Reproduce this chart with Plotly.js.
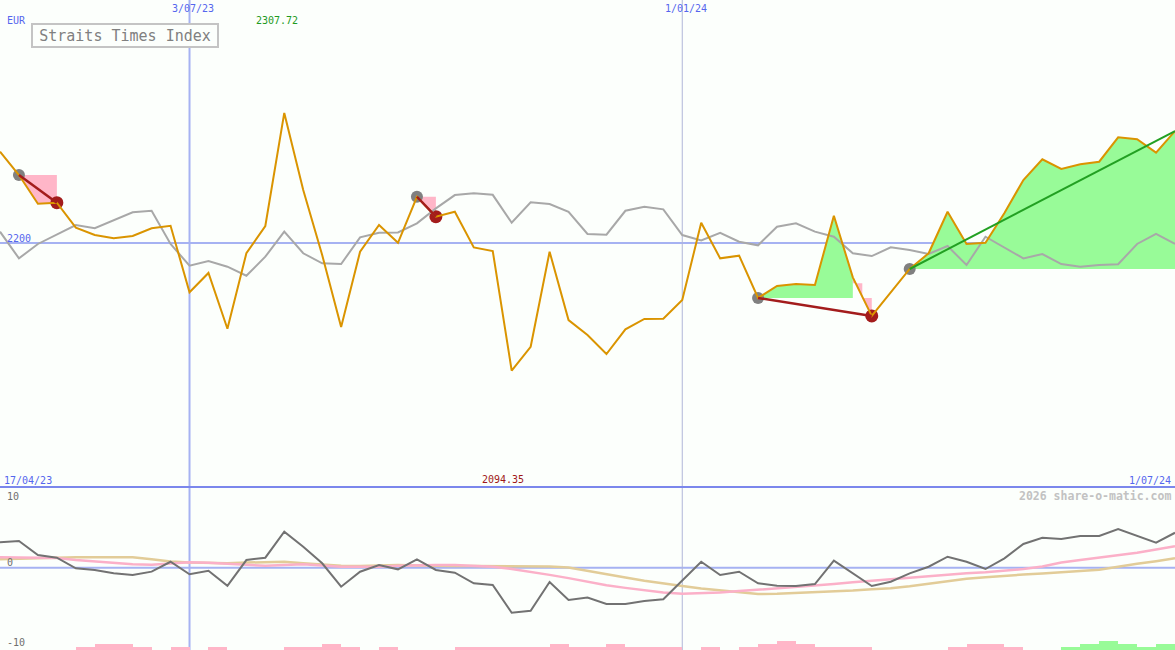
<!DOCTYPE html>
<html>
<head>
<meta charset="utf-8">
<script src="https://cdn.plot.ly/plotly-3.0.1.min.js"></script>
<style>
html,body{margin:0;padding:0;background:#fcfffc;}
#chart{width:1175px;height:650px;}
</style>
</head>
<body>
<div id="chart"></div>
<script>
// ---------- DATA ----------
const weeks = [
  '2023-04-24','2023-05-01','2023-05-08','2023-05-15','2023-05-22','2023-05-29','2023-06-05','2023-06-12','2023-06-19','2023-06-26',
  '2023-07-03','2023-07-10','2023-07-17','2023-07-24','2023-07-31','2023-08-07','2023-08-14','2023-08-21','2023-08-28','2023-09-04',
  '2023-09-11','2023-09-18','2023-09-25','2023-10-02','2023-10-09','2023-10-16','2023-10-23','2023-10-30','2023-11-06','2023-11-13',
  '2023-11-20','2023-11-27','2023-12-04','2023-12-11','2023-12-18','2023-12-25','2024-01-01','2024-01-08','2024-01-15','2024-01-22',
  '2024-01-29','2024-02-05','2024-02-12','2024-02-19','2024-02-26','2024-03-04','2024-03-11','2024-03-18','2024-03-25','2024-04-01',
  '2024-04-08','2024-04-15','2024-04-22','2024-04-29','2024-05-06','2024-05-13','2024-05-20','2024-05-27','2024-06-03','2024-06-10',
  '2024-06-17','2024-06-24','2024-07-01'
];

// Straits Times Index weekly close (EUR)
const indexClose = [
  2275.6, 2256.3, 2232.5, 2233.4, 2212.7, 2206.6, 2203.9, 2205.8, 2212.2, 2214.3,
  2159.2, 2175.2, 2129.0, 2191.5, 2214.1, 2307.72, 2243.9, 2190.1, 2130.4, 2192.8,
  2214.9, 2200.2, 2238.3, 2221.8, 2225.9, 2196.4, 2193.4, 2094.35, 2114.1, 2192.8,
  2136.2, 2123.8, 2108.1, 2128.5, 2137.1, 2137.3, 2152.8, 2216.8, 2187.3, 2189.5,
  2154.5, 2164.4, 2166.1, 2165.2, 2222.6, 2171.6, 2139.6, 2159.4, 2178.5, 2191.5,
  2225.9, 2199.2, 2200.2, 2224.8, 2252.2, 2269.3, 2261.3, 2265.2, 2267.3, 2287.5,
  2285.9, 2274.8, 2292.7
];

// grey comparison line
const comparison = [
  2209.4, 2187.3, 2199.2, 2207.2, 2214.9, 2212.2, 2219.0, 2225.4, 2226.7, 2199.2,
  2181.2, 2185.1, 2180.4, 2172.9, 2188.7, 2209.4, 2191.5, 2183.2, 2182.6, 2204.7,
  2208.5, 2208.7, 2216.3, 2228.7, 2239.7, 2241.2, 2239.9, 2216.8, 2233.7, 2232.3,
  2225.9, 2207.5, 2206.9, 2226.7, 2230.1, 2227.9, 2206.6, 2202.2, 2208.5, 2201.1,
  2198.1, 2213.5, 2216.3, 2209.4, 2205.2, 2191.5, 2189.2, 2196.4, 2194.2, 2190.9,
  2197.5, 2181.8, 2205.2, 2196.4, 2187.3, 2190.9, 2182.6, 2180.4, 2181.8, 2182.4,
  2199.2, 2207.5, 2199.2
];

// lower panel: momentum and its two averages
const momentum = [
  3.9, 4.1, 1.95, 1.54, -0.1, -0.35, -0.86, -1.12, -0.6, 0.92,
  -1.0, -0.46, -2.77, 1.18, 1.54, 5.54, 3.23, 0.68, -2.92, -0.62,
  0.42, -0.25, 1.29, -0.35, -0.77, -2.4, -2.66, -6.92, -6.62, -2.2,
  -4.97, -4.6, -5.58, -5.58, -5.12, -4.86, -1.97, 0.92, -1.12, -0.62,
  -2.4, -2.77, -2.82, -2.51, 1.08, -0.86, -2.82, -2.15, -0.86, 0.15,
  1.69, 0.92, -0.2, 1.45, 3.65, 4.62, 4.42, 4.88, 4.88, 5.95,
  4.88, 3.85, 5.38
];
const momentumFast = [
  1.6, 1.6, 1.6, 1.5, 1.2, 0.95, 0.7, 0.55, 0.45, 0.6,
  0.85, 0.75, 0.65, 0.45, 0.3, 0.45, 0.55, 0.35, 0.15, 0.15,
  0.15, 0.3, 0.4, 0.4, 0.4, 0.3, 0.15, -0.2, -0.6, -1.1,
  -1.6, -2.2, -2.7, -3.1, -3.5, -3.8, -4.0, -3.95, -3.8, -3.6,
  -3.4, -3.2, -3.0, -2.75, -2.5, -2.25, -2.0, -1.75, -1.5, -1.3,
  -1.05, -0.85, -0.7, -0.45, -0.2, 0.2, 0.8, 1.2, 1.55, 1.9,
  2.3, 2.8, 3.3
];
const momentumSlow = [
  1.3, 1.4, 1.45, 1.55, 1.6, 1.6, 1.6, 1.6, 1.3, 0.95,
  0.8, 0.7, 0.7, 0.8, 0.9, 0.9, 0.7, 0.45, 0.3, 0.25,
  0.35, 0.4, 0.35, 0.25, 0.25, 0.25, 0.25, 0.3, 0.3, 0.2,
  0.05, -0.5, -1.0, -1.5, -2.0, -2.45, -2.8, -3.2, -3.5, -3.8,
  -4.05, -4.0, -3.9, -3.8, -3.65, -3.5, -3.3, -3.15, -2.85, -2.45,
  -2.0, -1.7, -1.45, -1.2, -1.05, -0.9, -0.65, -0.5, -0.3, 0.2,
  0.6, 1.0, 1.45
];
// signal bars at the bottom: negative = pink, positive = green
const signalBars = [
  0, 0, 0, 0, -1, -2, -2, -1, 0, -1,
  0, -1, 0, 0, 0, -1, -1, -2, -1, 0,
  -1, 0, 0, 0, -1, -1, -1, -1, -1, -2,
  -1, -1, -2, -1, -1, -1, 0, -1, 0, -1,
  -2, -3, -2, -1, -1, -1, 0, 0, 0, 0,
  -1, -2, -2, -1, 0, 0, 1, 2, 3, 2,
  1, 2, 2
];

// swing analysis (indices into weeks)
const dropStart = [1, 22, 40];
const dropEnd = [3, 23, 46];
const riseStart = [48];
const riseEnd = [62];
const riseZones = [[40, 45], [48, 62]];
const dropZones = [[1, 3], [22, 23]];
const lastDropZone = [45, 46];
const lastDropLevels = [2166.6, 2154.5];

const extremeHigh = '2307.72';
const extremeLow = '2094.35';

// ---------- STYLE ----------
const BG = '#fcfffc';
const BLUE_TXT = '#5566ee';
const ORANGE = '#da9400';
const GREENFILL = '#98fb98';
const PINKFILL = '#ffb6c8';
const DARKRED = '#a31c1c';

const traces = [];

// green rise fills (between the close line and the level where the rise began)
riseZones.forEach(([a, b]) => {
  const xs = weeks.slice(a, b + 1).concat([weeks[b], weeks[a]]);
  const ys = indexClose.slice(a, b + 1).concat([indexClose[a], indexClose[a]]);
  traces.push({x: xs, y: ys, xaxis: 'x', yaxis: 'y', mode: 'lines', fill: 'toself',
    fillcolor: GREENFILL, line: {width: 0, color: GREENFILL}, hoverinfo: 'skip'});
});
// pink drop fills
dropZones.forEach(([a, b]) => {
  const xs = weeks.slice(a, b + 1).concat([weeks[b]]);
  const ys = indexClose.slice(a, b + 1).concat([indexClose[a]]);
  traces.push({x: xs, y: ys, xaxis: 'x', yaxis: 'y', mode: 'lines', fill: 'toself',
    fillcolor: PINKFILL, line: {width: 0, color: PINKFILL}, hoverinfo: 'skip'});
});
(function () {
  const [a, b] = lastDropZone;
  const t0 = new Date(weeks[a] + 'T00:00:00Z').getTime();
  const t1 = new Date(weeks[b] + 'T00:00:00Z').getTime();
  const mid = new Date((t0 + t1) / 2).toISOString().slice(0, 19).replace('T', ' ');
  traces.push({
    x: [weeks[a], weeks[b], weeks[b], mid, mid, weeks[a]],
    y: [indexClose[a], indexClose[b], lastDropLevels[1], lastDropLevels[1], lastDropLevels[0], lastDropLevels[0]],
    xaxis: 'x', yaxis: 'y', mode: 'lines', fill: 'toself',
    fillcolor: PINKFILL, line: {width: 0, color: PINKFILL}, hoverinfo: 'skip'});
})();

// swing markers
const startIdx = dropStart.concat(riseStart);
traces.push({x: startIdx.map(i => weeks[i]), y: startIdx.map(i => indexClose[i]),
  xaxis: 'x', yaxis: 'y', mode: 'markers', marker: {size: 12, color: '#808080'}, hoverinfo: 'skip'});
traces.push({x: dropEnd.map(i => weeks[i]), y: dropEnd.map(i => indexClose[i]),
  xaxis: 'x', yaxis: 'y', mode: 'markers', marker: {size: 13, color: DARKRED}, hoverinfo: 'skip'});

// comparison line & close
traces.push({x: weeks, y: comparison, xaxis: 'x', yaxis: 'y', mode: 'lines',
  line: {color: '#a8a8a8', width: 2}, hoverinfo: 'skip'});
traces.push({x: weeks, y: indexClose, xaxis: 'x', yaxis: 'y', mode: 'lines',
  line: {color: ORANGE, width: 2}, hoverinfo: 'skip'});

// trend lines
dropStart.forEach((s, k) => {
  const e = dropEnd[k];
  traces.push({x: [weeks[s], weeks[e]], y: [indexClose[s], indexClose[e]], xaxis: 'x', yaxis: 'y',
    mode: 'lines', line: {color: DARKRED, width: 2.5}, hoverinfo: 'skip'});
});
riseStart.forEach((s, k) => {
  const e = riseEnd[k];
  traces.push({x: [weeks[s], weeks[e]], y: [indexClose[s], indexClose[e]], xaxis: 'x', yaxis: 'y',
    mode: 'lines', line: {color: '#22a022', width: 2}, hoverinfo: 'skip'});
});

// lower panel
traces.push({x: weeks, y: signalBars.map(v => Math.abs(v)), type: 'bar', xaxis: 'x', yaxis: 'y3',
  marker: {color: signalBars.map(v => v > 0 ? GREENFILL : PINKFILL), line: {width: 0}},
  width: 7 * 86400000, offset: 0, hoverinfo: 'skip'});
traces.push({x: weeks, y: momentumSlow, xaxis: 'x', yaxis: 'y2', mode: 'lines',
  line: {color: '#e2cc98', width: 2.5}, hoverinfo: 'skip'});
traces.push({x: weeks, y: momentumFast, xaxis: 'x', yaxis: 'y2', mode: 'lines',
  line: {color: '#fbb0c8', width: 2.5}, hoverinfo: 'skip'});
traces.push({x: weeks, y: momentum, xaxis: 'x', yaxis: 'y2', mode: 'lines',
  line: {color: '#727272', width: 2}, hoverinfo: 'skip'});

// ---------- LAYOUT ----------
const W = 1175, H = 650;
const SPLIT = 1 - 487 / H;
const px = x => x / W;
const py = y => 1 - y / H;
const mono = 'DejaVu Sans Mono, Liberation Mono, monospace';

function label(text, x, y, color, anchor, size, extra) {
  return Object.assign({text: text, xref: 'paper', yref: 'paper', x: px(x), y: py(y),
    xanchor: anchor, yanchor: 'middle', showarrow: false,
    font: {family: mono, size: size || 10, color: color}}, extra || {});
}

const layout = {
  width: W, height: H,
  margin: {l: 0, r: 0, t: 0, b: 0, pad: 0},
  paper_bgcolor: BG, plot_bgcolor: BG,
  showlegend: false,
  bargap: 0,
  xaxis: {type: 'date', range: ['2023-04-24', '2024-07-01'], visible: false, fixedrange: true},
  yaxis: {domain: [SPLIT, 1], range: [1998.0, 2401.2], visible: false, fixedrange: true},
  yaxis2: {domain: [0, SPLIT], range: [-12.66, 12.42], visible: false, anchor: 'x', fixedrange: true},
  yaxis3: {overlaying: 'y2', range: [0, 52.5], visible: false, fixedrange: true},
  shapes: [
    {type: 'line', layer: 'below', xref: 'paper', x0: 0, x1: 1, yref: 'y', y0: 2200, y1: 2200,
      line: {color: '#a6b2f2', width: 2}},
    {type: 'line', layer: 'below', xref: 'paper', x0: 0, x1: 1, yref: 'y2', y0: 0, y1: 0,
      line: {color: '#a6b2f2', width: 2}},
    {type: 'line', layer: 'below', xref: 'x', x0: '2023-07-03', x1: '2023-07-03', yref: 'paper', y0: 0, y1: 1,
      line: {color: '#a6b2f2', width: 2}},
    {type: 'line', layer: 'below', xref: 'x', x0: '2024-01-01', x1: '2024-01-01', yref: 'paper', y0: 0, y1: 1,
      line: {color: '#b0b6d8', width: 1}},
    {type: 'line', layer: 'above', xref: 'paper', x0: 0, x1: 1, yref: 'paper', y0: SPLIT, y1: SPLIT,
      line: {color: '#7b87ec', width: 2}}
  ],
  annotations: [
    label('EUR', 5, 20, BLUE_TXT, 'left'),
    label('Straits Times Index', 124.5, 36, '#808080', 'center', 15,
      {width: 180, height: 17, borderpad: 2, borderwidth: 2, bordercolor: '#c4c4c4', bgcolor: BG}),
    label('3/07/23', 193, 9, BLUE_TXT, 'center'),
    label('1/01/24', 686, 9, BLUE_TXT, 'center'),
    label(extremeHigh, 277, 20, '#1f9a1f', 'center'),
    label('2200', 5, 238, BLUE_TXT, 'left'),
    label('17/04/23', 2, 480, BLUE_TXT, 'left'),
    label(extremeLow, 503, 479, '#a01818', 'center'),
    label('1/07/24', 1173, 480, BLUE_TXT, 'right'),
    Object.assign(label('2026 share-o-matic.com', 1173, 496, '#c2c2c2', 'right', 11.5),
      {font: {family: mono, size: 11.5, color: '#c2c2c2', weight: 'bold'}}),
    label('10', 5, 496, '#707070', 'left'),
    label('0', 5, 562, '#707070', 'left'),
    label('-10', 5, 642, '#707070', 'left')
  ]
};

Plotly.newPlot('chart', traces, layout, {staticPlot: true, displayModeBar: false});
</script>
</body>
</html>
